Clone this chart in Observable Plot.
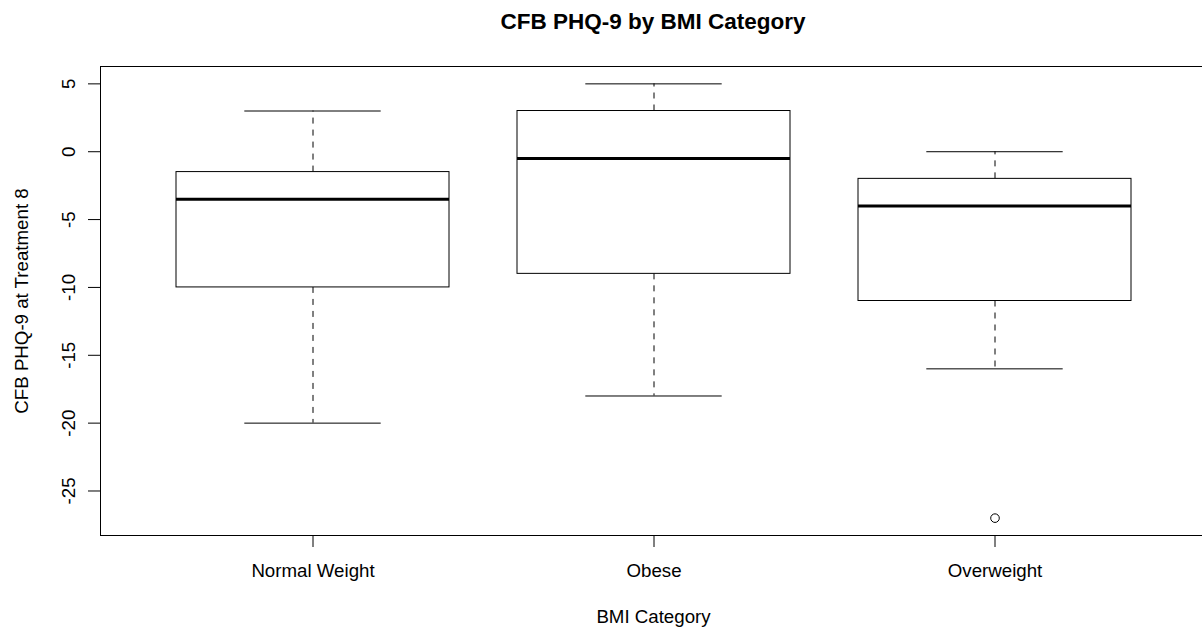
<!DOCTYPE html>
<html>
<head>
<meta charset="utf-8">
<script src="https://cdn.jsdelivr.net/npm/d3@7"></script>
<script src="https://cdn.jsdelivr.net/npm/@observablehq/plot@0.6"></script>
<style>
  html, body { margin: 0; padding: 0; background: #fff; overflow: hidden; }
  #title {
    margin-left: 100px; width: 1106px; height: 40px; line-height: 44px;
    text-align: center; font-family: "Liberation Sans", Arial, Helvetica, sans-serif;
    font-weight: bold; font-size: 22.5px; color: #000; white-space: nowrap;
  }
  #chart { width: 1206px; }
  #chart svg { display: block; max-width: none !important; }
</style>
</head>
<body>
<div id="title">CFB PHQ-9 by BMI Category</div>
<div id="chart"></div>
<script>
const categories = ["Normal Weight", "Obese", "Overweight"];
const lowerWhisker = [-20, -18, -16];
const lowerHinge = [-10, -9, -11];
const medians = [-3.5, -0.5, -4];
const upperHinge = [-1.5, 3, -2];
const upperWhisker = [3, 5, 0];
const outlierCategories = ["Overweight"];
const outlierValues = [-27];
const yTicks = [5, 0, -5, -10, -15, -20, -25];
const xAxisTitle = ["BMI Category"];
const yAxisTitle = ["CFB PHQ-9 at Treatment 8"];

const rows = categories.map((c, i) => ({
  cat: c, lo: lowerWhisker[i], q1: lowerHinge[i], med: medians[i], q3: upperHinge[i], hi: upperWhisker[i]
}));
const outliers = outlierCategories.map((c, i) => ({cat: c, v: outlierValues[i]}));

const capInset = 68.3;

const chart = Plot.plot({
  width: 1206,
  height: 590,
  marginLeft: 100,
  marginRight: 0,
  marginTop: 26,
  marginBottom: 95,
  style: {fontFamily: '"Liberation Sans", Arial, Helvetica, sans-serif', fontSize: "18.7px", color: "#000", background: "#fff", overflow: "visible", maxWidth: "none"},
  x: {type: "band", domain: categories, paddingInner: 0.2, paddingOuter: 0.22, label: null},
  y: {domain: [-28.28, 6.28], label: null},
  marks: [
    Plot.ruleX(rows, {x: "cat", y1: "q3", y2: "hi", stroke: "black", strokeDasharray: "6,6"}),
    Plot.ruleX(rows, {x: "cat", y1: "q1", y2: "lo", stroke: "black", strokeDasharray: "6,6"}),
    Plot.tickY(rows, {x: "cat", y: "hi", stroke: "black", insetLeft: capInset, insetRight: capInset}),
    Plot.tickY(rows, {x: "cat", y: "lo", stroke: "black", insetLeft: capInset, insetRight: capInset}),
    Plot.barY(rows, {x: "cat", y1: "q1", y2: "q3", fill: "white", stroke: "black", strokeWidth: 1}),
    Plot.tickY(rows, {x: "cat", y: "med", stroke: "black", strokeWidth: 3}),
    Plot.dot(outliers, {x: "cat", y: "v", r: 4.3, stroke: "black", fill: "none", strokeWidth: 1}),
    Plot.frame({stroke: "black"}),
    Plot.axisX({tickSize: 12, tickPadding: 16, stroke: "black", fill: "black", label: null}),
    Plot.axisY({ticks: yTicks, tickSize: 12, stroke: "black", tickFormat: () => "", label: null}),
    Plot.text(yTicks, {y: d => d, text: d => `${d}`, frameAnchor: "left", dx: -26, rotate: -90, textAnchor: "middle", lineAnchor: "bottom", fill: "black"}),
    Plot.text(xAxisTitle, {text: d => d, frameAnchor: "bottom", dy: 87, lineAnchor: "bottom", textAnchor: "middle", fill: "black"}),
    Plot.text(yAxisTitle, {text: d => d, frameAnchor: "left", dx: -73, rotate: -90, lineAnchor: "bottom", textAnchor: "middle", fill: "black"})
  ]
});
document.getElementById("chart").appendChild(chart);
</script>
</body>
</html>
